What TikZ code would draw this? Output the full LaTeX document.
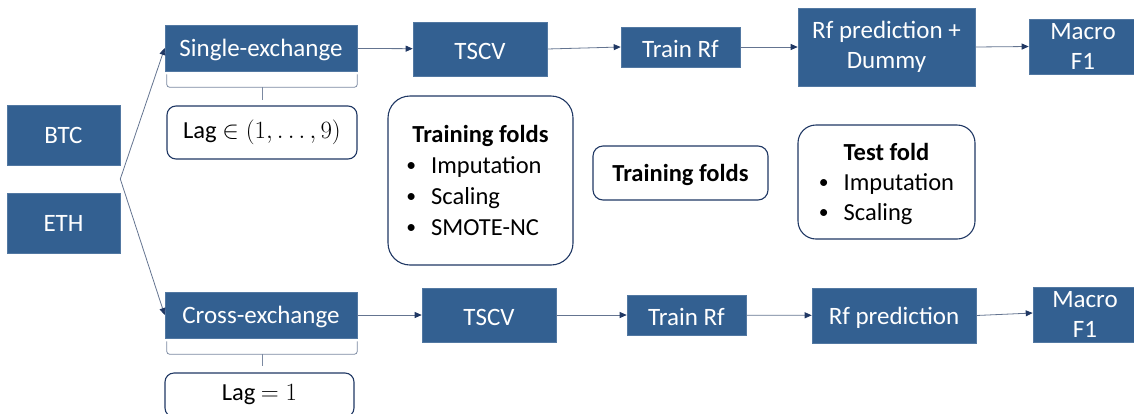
\documentclass[tikz,border=0pt]{standalone}
\usepackage{fontspec}
\setmainfont{Carlito}
\usetikzlibrary{arrows.meta,calc}
\definecolor{boxblue}{RGB}{51,96,145}
\definecolor{navy}{RGB}{32,56,100}
\definecolor{linegrey}{RGB}{100,116,144}
\tikzset{
  stage/.style={fill=boxblue, draw=boxblue!85!white, line width=0.6pt, text=white,
    inner sep=0pt, align=center, font=\fontsize{25}{30}\selectfont},
  note/.style={draw=navy, line width=1.1pt, fill=white, inner sep=0pt,
    align=center, font=\fontsize{24.5}{31}\selectfont},
  flow/.style={draw=linegrey, line width=0.8pt, -{Triangle[length=7pt,width=6pt,color=navy]}},
  bracket/.style={draw=linegrey!85, line width=0.8pt, rounded corners=3pt},
}
% drop content slightly while keeping its nominal extent
\newcommand{\sunk}[1]{\raisebox{-2pt}[\height][\depth]{#1}}
\newcommand{\dotitem}{\raisebox{0.15ex}{\scalebox{0.8}{\textbullet}}}
\newcommand{\bulletlist}[2]{%
  \begin{tabular}{@{}l@{\hspace{15pt}}l@{}}
    \multicolumn{2}{c}{\textbf{#1}}\\
    #2
  \end{tabular}}
\begin{document}
\begin{tikzpicture}[x=1pt,y=-1pt]
  \useasboundingbox (0,0) rectangle (1134,413);

  % inputs
  \node[stage, minimum width=113, minimum height=60] (btc) at (63.5,135) {BTC};
  \node[stage, minimum width=113, minimum height=60] (eth) at (63.5,223) {ETH};
  \coordinate (split) at ($(btc.south east)!0.5!(eth.north east)$);

  % upper pipeline
  \node[stage, minimum width=192, minimum height=46] (single) at (261,48) {\sunk{Single-exchange}};
  \node[stage, minimum width=134, minimum height=54] (tscvA) at (480,49) {\sunk{TSCV}};
  \node[stage, minimum width=119, minimum height=40] (trainA) at (680.5,47) {\sunk{Train Rf}};
  \node[stage, minimum width=177, minimum height=78] (predA) at (886.5,47) {Rf prediction +\\Dummy};
  \node[stage, minimum width=108, minimum height=55] (macroA) at (1083,46.5) {Macro\\F1};

  % lower pipeline
  \node[stage, minimum width=192, minimum height=46] (cross) at (261,315) {\sunk{Cross-exchange}};
  \node[stage, minimum width=134, minimum height=54] (tscvB) at (489,315) {\sunk{TSCV}};
  \node[stage, minimum width=119, minimum height=40] (trainB) at (686.5,315) {\sunk{Train Rf}};
  \node[stage, minimum width=164, minimum height=55] (predB) at (894,315.5) {\sunk{Rf prediction}};
  \node[stage, minimum width=104, minimum height=55] (macroB) at (1085,314.5) {Macro\\F1};

  % lag settings
  \node[note, rounded corners=9pt, minimum width=190, minimum height=53] (lagA) at (262,132.5)
    {Lag $\in(1,\ldots,9)$};
  \node[note, rounded corners=9pt, minimum width=189, minimum height=44] (lagB) at (259.5,395)
    {Lag $=1$};

  % fold preprocessing notes
  \node[note, rounded corners=22pt, minimum width=185, minimum height=169] (trainfolds) at (480.5,180.5)
    {\sunk{\bulletlist{Training folds}{\dotitem & Imputation\\ \dotitem & Scaling\\ \dotitem & SMOTE-NC}}};
  \node[note, rounded corners=10pt, minimum width=175, minimum height=54] (plainfolds) at (680.5,173)
    {\sunk{\textbf{Training folds}}};
  \node[note, rounded corners=18pt, minimum width=177, minimum height=114, font=\fontsize{24.5}{30}\selectfont]
    (testfold) at (886.5,182)
    {\sunk{\bulletlist{Test fold}{\dotitem & Imputation\\ \dotitem & Scaling}}};

  % brackets tying each branch to its lag
  \draw[bracket] ($(single.south west)+(2,3)$) -- ($(single.south west)+(2,16)$)
    -- ($(single.south east)+(0,16)$) -- ($(single.south east)+(0,3)$);
  \draw[bracket] ($(single.south)+(1,16)$) -- ($(single.south)+(1,29)$);
  \draw[bracket] ($(cross.south west)+(2,3)$) -- ($(cross.south west)+(2,16)$)
    -- ($(cross.south east)+(0,16)$) -- ($(cross.south east)+(0,3)$);
  \draw[bracket] ($(cross.south)+(1,16)$) -- ($(cross.south)+(1,28)$);

  % connectors
  \draw[flow] (split) -- (single.west);
  \draw[flow] (split) -- (cross.west);
  \draw[flow] (single) -- (tscvA);
  \draw[flow] (tscvA.east) -- (trainA.west);
  \draw[flow] (trainA) -- (predA);
  \draw[flow] (predA.east) -- (macroA.west);
  \draw[flow] (cross) -- (tscvB);
  \draw[flow] (tscvB) -- (trainB);
  \draw[flow] (trainB) -- (predB);
  \draw[flow] (predB.east) -- ($(macroB.west)+(0,-1.5)$);
\end{tikzpicture}
\end{document}
